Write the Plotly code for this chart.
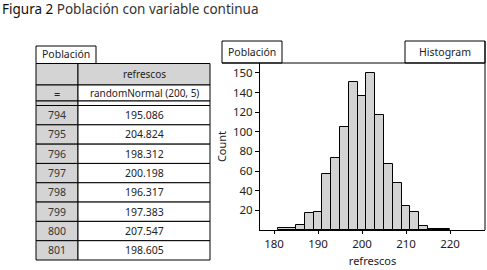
import plotly.graph_objects as go

W, H = 487, 270

# ---------------- data ----------------
title_bold = "Figura 2"
title_rest = "Población con variable continua"
tab_label = "Población"
hist_tab = "Histogram"
attr_name = "refrescos"
formula_sym = "="
formula = "randomNormal (200, 5)"
row_ids = ["794", "795", "796", "797", "798", "799", "800", "801"]
row_values = ["195.086", "204.824", "198.312", "200.198", "196.317", "197.383", "207.547", "198.605"]

bin_lo = [181, 185, 187, 189, 191, 193, 195, 197, 199, 201, 203, 205, 207, 209, 211, 213, 215]
bin_hi = [185, 187, 189, 191, 193, 195, 197, 199, 201, 203, 205, 207, 209, 211, 213, 215, 220]
counts = [2, 5, 17, 18, 57, 73, 105, 151, 136, 160, 117, 67, 48, 24, 18, 4, 1]

x_ticks = [180, 190, 200, 210, 220]
y_tickvals = [20, 40, 60, 80, 100, 120, 140, 160]
y_ticktext = ["20", "40", "60", "80", "100", "120", "140", "150"]
x_title = "refrescos"
y_title = "Count"

# ---------------- helpers (pixel -> paper) ----------------
def px(x):
    return x / W

def py(y):
    return 1 - y / H

FONT = "Noto Sans"
GRAY = "#d4d4d4"
shapes = []
annots = []

def rect(x0, y0, x1, y1, fill="white", lw=1):
    shapes.append(dict(type="rect", xref="paper", yref="paper",
                       x0=px(x0), x1=px(x1), y0=py(y1), y1=py(y0),
                       fillcolor=fill, line=dict(color="black", width=lw), layer="below"))

def line(x0, y0, x1, y1, lw=1):
    shapes.append(dict(type="line", xref="paper", yref="paper",
                       x0=px(x0), x1=px(x1), y0=py(y0), y1=py(y1),
                       line=dict(color="black", width=lw)))

def text(x, y, s, size=10, xanchor="center", color="#222"):
    annots.append(dict(xref="paper", yref="paper", x=px(x), y=py(y), text=s,
                       showarrow=False, xanchor=xanchor, yanchor="middle",
                       font=dict(family=FONT, size=size, color=color)))

# ---------------- title ----------------
annots.append(dict(xref="paper", yref="paper", x=0, y=py(9), xanchor="left", yanchor="middle",
                   showarrow=False,
                   text=f"<span style='color:#111'>{title_bold}</span> {title_rest}",
                   font=dict(family=FONT, size=13.5, color="#333")))

# ---------------- table ----------------
TX0, TX1, TX2 = 36, 78, 210
rect(TX0, 46, 96, 63.5)
text(66, 54.5, tab_label, size=10.5)
rect(TX0, 63.5, TX1, 85, GRAY)
rect(TX1, 63.5, TX2, 85, GRAY)
text((TX1 + TX2) / 2, 74, attr_name)
rect(TX0, 85, TX1, 101, GRAY)
rect(TX1, 85, TX2, 101)
text((TX0 + TX1) / 2, 93, formula_sym, size=11)
text((TX1 + TX2) / 2, 93, formula, size=10)
rect(TX0, 101, TX1, 105.5, GRAY)
rect(TX1, 101, TX2, 105.5)
row_h = (260 - 105.5) / len(row_ids)
for i, (rid, val) in enumerate(zip(row_ids, row_values)):
    y0 = 105.5 + i * row_h
    rect(TX0, y0, TX1, y0 + row_h, GRAY)
    rect(TX1, y0, TX2, y0 + row_h)
    text((TX0 + TX1) / 2, y0 + row_h / 2, rid, size=10.5, color="#333")
    text((TX1 + TX2) / 2, y0 + row_h / 2, val, size=10.5)

# ---------------- histogram frame & tabs ----------------
PL, PR, PT, PB = 260, 485, 63, 230
rect(222, 41, 282, 63)
text(252, 51.5, tab_label, size=10.5)
rect(405, 41, 485, 63)
text(445, 52, hist_tab, size=10.5)
line(222, 63, PR, 63)
line(PR, 41, PR, PB)

centers = [(a + b) / 2 for a, b in zip(bin_lo, bin_hi)]
widths = [b - a for a, b in zip(bin_lo, bin_hi)]

fig = go.Figure(go.Bar(x=centers, y=counts, width=widths, hoverinfo="skip",
                       marker=dict(color="#d3d3d3", line=dict(color="black", width=1))))

x_per_px = 4.4
x0 = 180 - (274 - PL) / x_per_px
x1 = 180 + (PR - 274) / x_per_px
y_per_px = 0.982
y1 = (PB - PT) / y_per_px

fig.update_layout(
    width=W, height=H, margin=dict(l=0, r=0, t=0, b=0),
    paper_bgcolor="white", plot_bgcolor="white",
    showlegend=False, bargap=0,
    shapes=shapes, annotations=annots,
    font=dict(family=FONT, size=11, color="#222"),
    xaxis=dict(domain=[px(PL), px(PR)], range=[x0, x1], tickvals=x_ticks,
               ticks="outside", ticklen=3, tickcolor="black", showgrid=False, zeroline=False,
               showline=True, linecolor="black", linewidth=1,
               tickfont=dict(family=FONT, size=11.5, color="#222"),
               title=dict(text=x_title, font=dict(family=FONT, size=11, color="#222"), standoff=7)),
    yaxis=dict(domain=[py(PB), py(PT)], range=[0, y1], tickvals=y_tickvals, ticktext=y_ticktext,
               ticks="outside", ticklen=4, tickcolor="black", showgrid=False, zeroline=False,
               showline=True, linecolor="black", linewidth=1,
               tickfont=dict(family=FONT, size=11.5, color="#222"),
               title=dict(text=y_title, font=dict(family=FONT, size=11, color="#222"), standoff=4)),
)

fig.write_html("out.html", config={"displayModeBar": False},
               post_script="document.body.style.margin='0';document.body.style.overflow='hidden';")
